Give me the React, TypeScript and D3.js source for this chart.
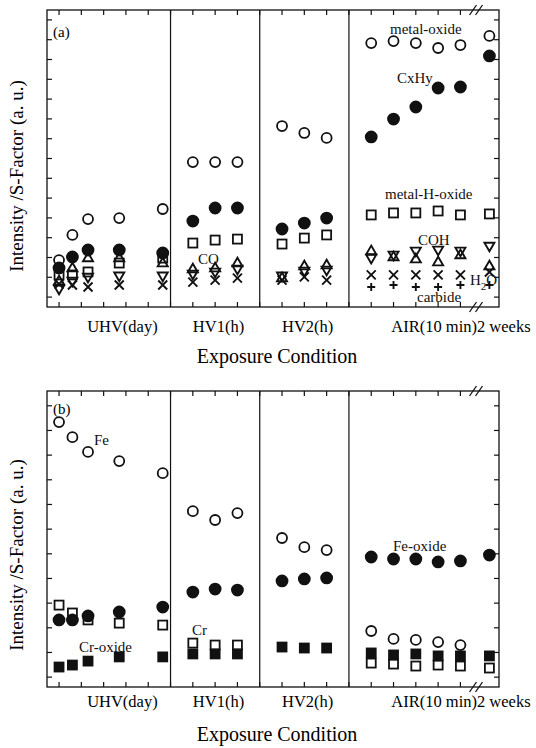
import * as d3 from "d3";
import { useRef, useEffect } from "react";

// exposure steps along the x axis (axis tick units)
const exposureX = [0, 0.6, 1.3, 2.7, 4.65, 6, 7, 8, 10, 11, 12, 14, 15, 16, 17, 18, 19.3];
const dividers = [5, 9, 13];
const conditionLabels = ["UHV(day)", "HV1(h)", "HV2(h)", "AIR(10 min)2 weeks"];
const conditionStart = [1.26, 6, 10, 14.9];

// panel (a)
const metalOxide = [2.37, 3.64, 4.44, 4.49, 4.95, 7.32, 7.32, 7.32, 9.14, 8.79, 8.54, 13.33, 13.43, 13.33, 13.08, 13.23, 13.69];
const cxhy = [1.97, 2.53, 2.88, 2.88, 2.73, 4.34, 5.0, 5.0, 3.94, 4.24, 4.49, 8.59, 9.49, 10.1, 11.06, 11.11, 12.68];
const metalHOxide = [1.62, 1.62, 1.77, 2.22, 2.47, 3.23, 3.38, 3.43, 3.18, 3.48, 3.64, 4.65, 4.75, 4.75, 4.85, 4.65, 4.7];
const co = [1.36, 2.02, 2.53, 2.53, 2.27, 1.97, 2.02, 2.27, 1.52, 2.12, 2.17, 2.88, 2.58, 2.47, 2.32, 2.68, 2.12];
const coh = [0.86, 1.26, 1.46, 1.52, 1.52, 1.62, 1.72, 1.87, 1.52, 1.77, 1.82, 2.42, 2.58, 2.78, 2.83, 2.78, 3.03];
const h2o = [1.16, 1.11, 1.01, 1.11, 1.11, 1.26, 1.36, 1.46, 1.36, 1.52, 1.36, 1.62, 1.62, 1.62, 1.62, 1.62, 1.77];
const carbide = [null, null, null, null, null, null, null, null, null, null, null, 1.01, 1.11, 1.01, 1.01, 1.11, 1.11];

// panel (b)
const fe = [10.74, 10.13, 9.53, 9.16, 8.67, 7.13, 6.77, 7.05, 6.04, 5.67, 5.55, 2.27, 1.95, 1.91, 1.82, 1.7, null];
const feOxide = [2.72, 2.72, 2.88, 3.04, 3.24, 3.85, 3.97, 3.93, 4.3, 4.38, 4.42, 5.27, 5.19, 5.19, 5.07, 5.11, 5.35];
const cr = [3.32, 3.0, 2.72, 2.59, 2.51, 1.78, 1.7, 1.7, null, null, null, 0.97, 0.93, 0.85, 0.89, 0.85, 0.77];
const crOxide = [0.81, 0.89, 1.05, 1.22, 1.22, 1.34, 1.34, 1.34, 1.62, 1.58, 1.58, 1.38, 1.3, 1.34, 1.26, 1.26, 1.26];

const FONT = "'Liberation Serif', 'Times New Roman', serif";

const markerPath = (type, s) => {
    const h = s * 0.866;
    switch (type) {
        case "up":
            return `M0,${-h / 2}L${-s / 2},${h / 2}L${s / 2},${h / 2}Z`;
        case "down":
            return `M0,${h / 2}L${-s / 2},${-h / 2}L${s / 2},${-h / 2}Z`;
        case "x":
            return `M${-s / 2},${-s / 2}L${s / 2},${s / 2}M${-s / 2},${s / 2}L${s / 2},${-s / 2}`;
        case "plus":
            return `M${-s / 2},0L${s / 2},0M0,${-s / 2}L0,${s / 2}`;
        default:
            return "";
    }
};

const App = () => {
    const chartRef = useRef(null);

    useEffect(() => {
        const svg = d3.select(chartRef.current);
        svg.selectAll("*").remove();

        const x = d3.scaleLinear().domain([-0.54, 19.73]).range([47, 499]);

        const panels = [
            {
                top: 10, bottom: 307, ymax: 15, tick0: 0.5, tag: "(a)", tagY: 37,
                labelY: 332, titleY: 363, yLabelMid: 176,
                series: [
                    { data: metalOxide, shape: "circle", filled: false },
                    { data: metalHOxide, shape: "square", filled: false },
                    { data: co, shape: "up", filled: false },
                    { data: coh, shape: "down", filled: false },
                    { data: h2o, shape: "x", filled: false },
                    { data: carbide, shape: "plus", filled: false },
                    { data: cxhy, shape: "circle", filled: true },
                ],
                notes: [
                    { text: "metal-oxide", u: 390, v: 34 },
                    { text: "CxHy", u: 397, v: 83 },
                    { text: "metal-H-oxide", u: 385, v: 199 },
                    { text: "COH", u: 418, v: 245 },
                    { text: "CO", u: 198, v: 264 },
                    { text: "carbide", u: 417, v: 302 },
                ],
            },
            {
                top: 391, bottom: 687, ymax: 12, tick0: 0.4, tag: "(b)", tagY: 414,
                labelY: 707, titleY: 741, yLabelMid: 555,
                series: [
                    { data: fe, shape: "circle", filled: false },
                    { data: cr, shape: "square", filled: false },
                    { data: feOxide, shape: "circle", filled: true },
                    { data: crOxide, shape: "square", filled: true },
                ],
                notes: [
                    { text: "Fe", u: 94, v: 445 },
                    { text: "Fe-oxide", u: 393, v: 551 },
                    { text: "Cr", u: 192, v: 635 },
                    { text: "Cr-oxide", u: 79, v: 652 },
                ],
            },
        ];

        panels.forEach(p => {
            const y = d3.scaleLinear().domain([0, p.ymax]).range([p.bottom, p.top]);
            const g = svg.append("g");
            const [x0, x1] = x.range();

            // frame
            g.append("rect")
                .attr("x", x0).attr("y", p.top)
                .attr("width", x1 - x0).attr("height", p.bottom - p.top)
                .attr("fill", "none").attr("stroke", "#111").attr("stroke-width", 1.3);

            // dividers between exposure conditions
            g.selectAll("line.div")
                .data(dividers)
                .enter()
                .append("line")
                .attr("x1", d => x(d)).attr("x2", d => x(d))
                .attr("y1", p.top).attr("y2", p.bottom)
                .attr("stroke", "#111").attr("stroke-width", 1.2);

            // x ticks top and bottom
            const xt = d3.range(0, 19);
            g.selectAll("line.xtt")
                .data(xt).enter().append("line")
                .attr("x1", d => x(d)).attr("x2", d => x(d))
                .attr("y1", p.top).attr("y2", p.top + 5)
                .attr("stroke", "#111").attr("stroke-width", 1.2);
            g.selectAll("line.xtb")
                .data(xt).enter().append("line")
                .attr("x1", d => x(d)).attr("x2", d => x(d))
                .attr("y1", p.bottom).attr("y2", p.bottom - 5)
                .attr("stroke", "#111").attr("stroke-width", 1.2);

            // y ticks left and right
            const yt = d3.range(p.tick0, p.ymax, 1);
            g.selectAll("line.ytl")
                .data(yt).enter().append("line")
                .attr("x1", x0).attr("x2", x0 + 5)
                .attr("y1", d => y(d)).attr("y2", d => y(d))
                .attr("stroke", "#111").attr("stroke-width", 1.2);
            g.selectAll("line.ytr")
                .data(yt).enter().append("line")
                .attr("x1", x1).attr("x2", x1 - 5)
                .attr("y1", d => y(d)).attr("y2", d => y(d))
                .attr("stroke", "#111").attr("stroke-width", 1.2);

            // axis break marks
            [p.top, p.bottom].forEach(yy => {
                [473, 479].forEach(bx => {
                    g.append("line")
                        .attr("x1", bx - 3.5).attr("y1", yy + 5)
                        .attr("x2", bx + 3.5).attr("y2", yy - 5)
                        .attr("stroke", "#111").attr("stroke-width", 1.3);
                });
            });

            // markers
            p.series.forEach(s => {
                const pts = s.data
                    .map((v, i) => ({ v, i }))
                    .filter(d => d.v !== null);
                const sel = g.selectAll(null).data(pts).enter();
                if (s.shape === "circle") {
                    sel.append("circle")
                        .attr("cx", d => x(exposureX[d.i]))
                        .attr("cy", d => y(d.v))
                        .attr("r", s.filled ? 5.5 : 5)
                        .attr("fill", s.filled ? "#111" : "none")
                        .attr("stroke", "#111")
                        .attr("stroke-width", 1.8);
                } else if (s.shape === "square") {
                    const sz = 9;
                    sel.append("rect")
                        .attr("x", d => x(exposureX[d.i]) - sz / 2)
                        .attr("y", d => y(d.v) - sz / 2)
                        .attr("width", sz).attr("height", sz)
                        .attr("fill", s.filled ? "#111" : "none")
                        .attr("stroke", "#111")
                        .attr("stroke-width", 1.8);
                } else {
                    const sz = s.shape === "plus" ? 8 : s.shape === "x" ? 9 : 10;
                    sel.append("path")
                        .attr("transform", d => `translate(${x(exposureX[d.i])},${y(d.v)})`)
                        .attr("d", markerPath(s.shape, sz))
                        .attr("fill", "none")
                        .attr("stroke", "#111")
                        .attr("stroke-width", 1.9);
                }
            });

            // annotations
            g.selectAll("text.note")
                .data(p.notes).enter().append("text")
                .attr("x", d => d.u).attr("y", d => d.v)
                .attr("font-family", FONT).attr("font-size", 15)
                .attr("fill", "#111")
                .text(d => d.text);

            g.append("text")
                .attr("x", 53).attr("y", p.tagY)
                .attr("font-family", FONT).attr("font-size", 15)
                .text(p.tag);

            // condition labels
            g.selectAll("text.cond")
                .data(conditionLabels).enter().append("text")
                .attr("x", (d, i) => x(conditionStart[i]))
                .attr("y", p.labelY)
                .attr("font-family", FONT).attr("font-size", 16.5)
                .text(d => d);

            g.append("text")
                .attr("x", 277).attr("y", p.titleY)
                .attr("text-anchor", "middle")
                .attr("font-family", FONT).attr("font-size", 20)
                .text("Exposure Condition");

            g.append("text")
                .attr("transform", `translate(23,${p.yLabelMid}) rotate(-90)`)
                .attr("text-anchor", "middle")
                .attr("font-family", FONT).attr("font-size", 19)
                .text("Intensity /S-Factor (a. u.)");
        });

        // H2O label with subscript in panel (a)
        const h = svg.append("text")
            .attr("x", 470).attr("y", 285)
            .attr("font-family", FONT).attr("font-size", 15)
            .attr("fill", "#111");
        h.append("tspan").text("H");
        h.append("tspan").attr("dy", 5).attr("font-size", 11).text("2");
        h.append("tspan").attr("dy", -5).text("O");
    }, []);

    return (
        <svg ref={chartRef} width={536} height={748}
            style={{ position: "absolute", left: 0, top: 0, background: "#fff" }}>
        </svg>
    );
};

export default App;
